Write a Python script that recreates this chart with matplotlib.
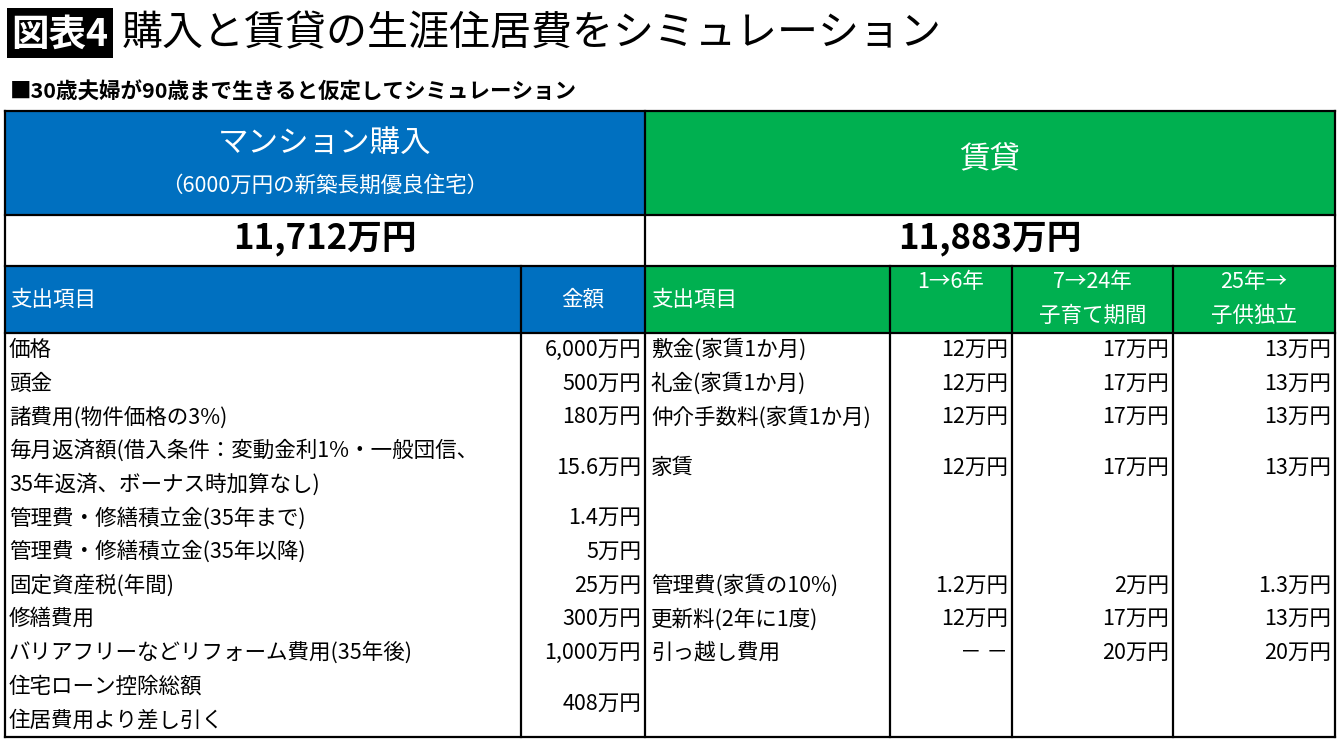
import matplotlib
matplotlib.use("Agg")
import matplotlib.pyplot as plt
from matplotlib.patches import Rectangle

plt.rcParams['font.family'] = ['Noto Sans CJK JP', 'DejaVu Sans']

# ---------------- data ----------------
fig_label = "図表4"
title = "購入と賃貸の生涯住居費をシミュレーション"
subtitle = "■30歳夫婦が90歳まで生きると仮定してシミュレーション"

buy_header = "マンション購入"
buy_sub = "（6000万円の新築長期優良住宅）"
rent_header = "賃貸"
buy_total = "11,712万円"
rent_total = "11,883万円"

buy_cols = ["支出項目", "金額"]
rent_cols = ["支出項目", "1→6年", "7→24年\n子育て期間", "25年→\n子供独立"]

buy_items = [
    "価格",
    "頭金",
    "諸費用(物件価格の3%)",
    "毎月返済額(借入条件：変動金利1%・一般団信、\n35年返済、ボーナス時加算なし)",
    "管理費・修繕積立金(35年まで)",
    "管理費・修繕積立金(35年以降)",
    "固定資産税(年間)",
    "修繕費用",
    "バリアフリーなどリフォーム費用(35年後)",
    "住宅ローン控除総額\n住居費用より差し引く",
]
buy_amounts = ["6,000万円", "500万円", "180万円", "15.6万円", "1.4万円",
               "5万円", "25万円", "300万円", "1,000万円", "408万円"]

rent_items = ["敷金(家賃1か月)", "礼金(家賃1か月)", "仲介手数料(家賃1か月)", "家賃",
              "", "", "管理費(家賃の10%)", "更新料(2年に1度)", "引っ越し費用", ""]
rent_1_6 = ["12万円", "12万円", "12万円", "12万円", "", "", "1.2万円", "12万円", "－ －", ""]
rent_7_24 = ["17万円", "17万円", "17万円", "17万円", "", "", "2万円", "17万円", "20万円", ""]
rent_25 = ["13万円", "13万円", "13万円", "13万円", "", "", "1.3万円", "13万円", "20万円", ""]

row_lines = [1, 1, 1, 2, 1, 1, 1, 1, 1, 2]

# ---------------- layout ----------------
W, H = 1340, 743
BLUE = "#0070C0"
GREEN = "#00B050"

xL, xA, xM, x1, x2, x3, xR = 5, 521, 645, 890, 1012, 1173, 1335
yT, yTot, yCol, yBody, yB = 111, 215, 266, 333, 737
n_lines = sum(row_lines)
lh = (yB - yBody) / n_lines

fig = plt.figure(figsize=(W / 100, H / 100), dpi=100)
ax = fig.add_axes([0, 0, 1, 1])
ax.set_xlim(0, W)
ax.set_ylim(H, 0)
ax.axis('off')

# title
ax.add_patch(Rectangle((7, 8), 106, 50, facecolor='black', edgecolor='none'))
ax.text(60, 34, fig_label, color='white', fontsize=27, fontweight='bold',
        ha='center', va='center')
ax.text(122, 34, title, color='black', fontsize=29.5, ha='left', va='center')
ax.text(10, 92, subtitle, color='black', fontsize=15.5, fontweight='bold',
        ha='left', va='center')

# colored fills
ax.add_patch(Rectangle((xL, yT), xM - xL, yTot - yT, facecolor=BLUE, edgecolor='none'))
ax.add_patch(Rectangle((xM, yT), xR - xM, yTot - yT, facecolor=GREEN, edgecolor='none'))
ax.add_patch(Rectangle((xL, yCol), xM - xL, yBody - yCol, facecolor=BLUE, edgecolor='none'))
ax.add_patch(Rectangle((xM, yCol), xR - xM, yBody - yCol, facecolor=GREEN, edgecolor='none'))

# lines
lw = 1.6
for y in [yT, yTot, yCol, yBody, yB]:
    ax.plot([xL, xR], [y, y], color='black', lw=lw, solid_capstyle='projecting')
for x in [xL, xM, xR]:
    ax.plot([x, x], [yT, yB], color='black', lw=lw, solid_capstyle='projecting')
for x in [xA, x1, x2, x3]:
    ax.plot([x, x], [yCol, yB], color='black', lw=lw, solid_capstyle='projecting')

# header row
ax.text((xL + xM) / 2, 143, buy_header, color='white', fontsize=22, ha='center', va='center')
ax.text((xL + xM) / 2, 186, buy_sub, color='white', fontsize=15.5, ha='center', va='center')
ax.text((xM + xR) / 2, 160, rent_header, color='white', fontsize=22, ha='center', va='center')

# totals
ax.text((xL + xM) / 2, 239, buy_total, color='black', fontsize=25, fontweight='bold',
        ha='center', va='center')
ax.text((xM + xR) / 2, 239, rent_total, color='black', fontsize=25, fontweight='bold',
        ha='center', va='center')

# column headers
fs = 15.5
ymid = (yCol + yBody) / 2
ax.text(xL + 5, ymid, buy_cols[0], color='white', fontsize=fs, ha='left', va='center')
ax.text((xA + xM) / 2, ymid, buy_cols[1], color='white', fontsize=fs, ha='center', va='center')
ax.text(xM + 6, ymid, rent_cols[0], color='white', fontsize=fs, ha='left', va='center')
for (a, b), lab in zip([(x1, x2), (x2, x3), (x3, xR)], rent_cols[1:]):
    for k, part in enumerate(lab.split("\n")):
        ax.text((a + b) / 2, yCol + 16 + k * 34, part, color='white', fontsize=fs,
                ha='center', va='center')

# body
line = 0
for i, nl in enumerate(row_lines):
    y0 = yBody + line * lh
    ycen = y0 + nl * lh / 2
    parts = buy_items[i].split("\n")
    for k, part in enumerate(parts):
        ax.text(xL + 4, y0 + (k + 0.5) * lh, part, fontsize=fs, ha='left', va='center')
    ax.text(xM - 4, ycen, buy_amounts[i], fontsize=fs, ha='right', va='center')
    if rent_items[i]:
        ax.text(xM + 6, ycen, rent_items[i], fontsize=fs, ha='left', va='center')
    for xr, vals in [(x2 - 4, rent_1_6), (x3 - 4, rent_7_24), (xR - 4, rent_25)]:
        if vals[i]:
            ax.text(xr, ycen, vals[i], fontsize=fs, ha='right', va='center')
    line += nl

fig.savefig("out.png", dpi=100, facecolor='white')
